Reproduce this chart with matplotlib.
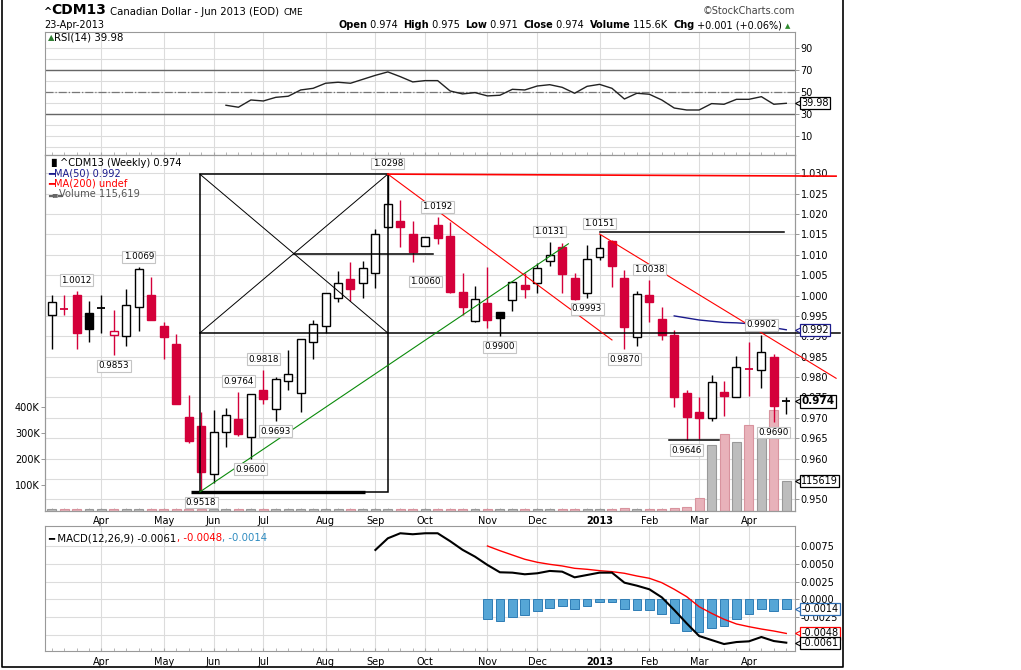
import numpy as np
import matplotlib
matplotlib.use('Agg')
import matplotlib.pyplot as plt
from matplotlib.patches import Rectangle
from matplotlib.transforms import blended_transform_factory

W, H = 1021, 670

# weekly bars, week of 5-Mar-2012 .. week of 22-Apr-2013
opens = [0.9952, 0.9966, 1.0001, 0.9956, 0.9970, 0.9902, 0.9900, 0.9971, 1.0001, 0.9925,
         0.9881, 0.9702, 0.9680, 0.9561, 0.9664, 0.9697, 0.9652, 0.9768, 0.9721, 0.9790,
         0.9760, 0.9885, 0.9925, 0.9993, 1.0041, 1.0030, 1.0056, 1.0167, 1.0183, 1.0151,
         1.0122, 1.0173, 1.0146, 1.0009, 0.9938, 0.9981, 0.9959, 0.9988, 1.0025, 1.0032,
         1.0085, 1.0118, 1.0043, 1.0007, 1.0094, 1.0134, 1.0043, 0.9899, 1.0001, 0.9942,
         0.9903, 0.9760, 0.9714, 0.9699, 0.9763, 0.9750, 0.9819, 0.9818, 0.9849, 0.9740]
highs = [1.0001, 1.0001, 1.0012, 0.9987, 1.0001, 0.9965, 1.0016, 1.0069, 1.0046, 0.9934,
         0.9906, 0.9756, 0.9714, 0.9718, 0.9725, 0.9764, 0.9759, 0.9818, 0.9799, 0.9866,
         0.9893, 0.9939, 1.0007, 1.0060, 1.0082, 1.0085, 1.0163, 1.0298, 1.0235, 1.0183,
         1.0143, 1.0192, 1.0181, 1.0056, 1.0024, 1.0071, 0.9960, 1.0035, 1.0055, 1.0079,
         1.0131, 1.0130, 1.0055, 1.0124, 1.0151, 1.0136, 1.0063, 1.0011, 1.0038, 0.9973,
         0.9916, 0.9768, 0.9752, 0.9805, 0.9791, 0.9852, 0.9885, 0.9902, 0.9857, 0.9750]
lows = [0.9870, 0.9952, 0.9870, 0.9887, 0.9907, 0.9853, 0.9877, 0.9914, 0.9940, 0.9844,
        0.9735, 0.9639, 0.9518, 0.9539, 0.9629, 0.9655, 0.9600, 0.9735, 0.9693, 0.9768,
        0.9715, 0.9844, 0.9908, 0.9983, 0.9986, 0.9995, 1.0019, 1.0165, 1.0120, 1.0083,
        1.0122, 1.0126, 1.0007, 0.9952, 0.9936, 0.9921, 0.9900, 0.9963, 0.9995, 1.0007,
        1.0073, 1.0007, 0.9990, 0.9993, 1.0087, 1.0022, 0.9870, 0.9875, 0.9936, 0.9891,
        0.9727, 0.9646, 0.9647, 0.9691, 0.9705, 0.9750, 0.9754, 0.9772, 0.9690, 0.9710]
closes = [0.9983, 0.9966, 0.9907, 0.9919, 0.9970, 0.9914, 0.9976, 1.0066, 0.9941, 0.9899,
          0.9735, 0.9644, 0.9568, 0.9664, 0.9706, 0.9660, 0.9758, 0.9747, 0.9794, 0.9807,
          0.9893, 0.9929, 1.0006, 1.0032, 1.0015, 1.0067, 1.0150, 1.0225, 1.0169, 1.0108,
          1.0143, 1.0140, 1.0009, 0.9973, 0.9991, 0.9939, 0.9944, 1.0034, 1.0015, 1.0067,
          1.0099, 1.0054, 0.9992, 1.0089, 1.0116, 1.0073, 0.9924, 1.0003, 0.9983, 0.9902,
          0.9750, 0.9702, 0.9699, 0.9787, 0.9754, 0.9824, 0.9819, 0.9861, 0.9730, 0.9740]
volumes = [6100, 6900, 6400, 5800, 6600, 6200, 5900, 7100, 6800, 6300,
           7400, 7000, 6600, 7200, 6900, 6500, 7300, 6700, 6100, 6400,
           6800, 7000, 6600, 6200, 6900, 6500, 7100, 6300, 6700, 6900,
           6000, 6600, 6800, 6400, 6200, 6700, 5900, 6300, 6500, 6100,
           6400, 6800, 6200, 6600, 7000, 6500, 8600, 6800, 7200, 7400,
           10800, 14500, 50000, 255000, 297000, 267000, 329000, 284000, 387000, 115619]

ma50_start = 50
ma50 = [0.9950, 0.9945, 0.9940, 0.9937, 0.9934, 0.9933, 0.9931, 0.9926, 0.9921, 0.9916]

rsi_start = 14
rsi = [38.2, 36.4, 43.0, 42.1, 45.4, 46.4, 52.1, 53.6, 58.2, 59.1, 58.2, 61.8, 65.4, 68.5,
       64.2, 59.4, 60.6, 60.6, 51.2, 48.5, 49.7, 46.7, 47.3, 52.7, 52.1, 55.7, 56.9, 54.5,
       49.1, 55.4, 57.2, 53.6, 43.9, 49.1, 48.2, 43.0, 35.7, 33.9, 33.9, 39.7, 39.1, 43.6,
       43.6, 46.0, 39.1, 39.98]

macd_start = 26
macd = [0.00694, 0.00858, 0.00929, 0.00915, 0.00929, 0.00929, 0.00818, 0.00696, 0.00600,
        0.00483, 0.00380, 0.00375, 0.00352, 0.00366, 0.00399, 0.00389, 0.00309, 0.00342,
        0.00375, 0.00375, 0.00234, 0.00192, 0.00141, 0.00028, -0.00150, -0.00338, -0.00516,
        -0.00573, -0.00629, -0.00601, -0.00591, -0.00530, -0.00587, -0.0061]
signal_start = 35
signal = [0.00750, 0.00684, 0.00623, 0.00563, 0.00521, 0.00492, 0.00469, 0.00436, 0.00422,
          0.00403, 0.00389, 0.00366, 0.00328, 0.00296, 0.00234, 0.00141, 0.00037, -0.00104,
          -0.00197, -0.00281, -0.00347, -0.00385, -0.00418, -0.00446, -0.0048]
hist = [-0.0028, -0.0031, -0.0025, -0.0022, -0.0017, -0.0012, -0.0010, -0.0013, -0.0009,
        -0.0004, -0.0004, -0.0014, -0.0015, -0.0015, -0.0021, -0.0034, -0.0044, -0.0046,
        -0.0041, -0.0038, -0.0028, -0.0021, -0.0013, -0.0016, -0.0014]

month_pos = [4, 9, 13, 17, 22, 26, 30, 35, 39, 44, 48, 52, 56]
month_lbl = ['Apr', 'May', 'Jun', 'Jul', 'Aug', 'Sep', 'Oct', 'Nov', 'Dec', '2013', 'Feb', 'Mar', 'Apr']

# swing high / low tags (bar, value, side)
swing_tags = [(2, '1.0012', 'up'), (5, '0.9853', 'dn'), (7, '1.0069', 'up'), (12, '0.9518', 'dn'),
              (15, '0.9764', 'up'), (16, '0.9600', 'dn'), (17, '0.9818', 'up'), (18, '0.9693', 'dn'),
              (27, '1.0298', 'up'), (30, '1.0060', 'dn'), (31, '1.0192', 'up'), (36, '0.9900', 'dn'),
              (40, '1.0131', 'up'), (43, '0.9993', 'dn'), (44, '1.0151', 'up'), (46, '0.9870', 'dn'),
              (48, '1.0038', 'up'), (51, '0.9646', 'dn'), (57, '0.9902', 'up'), (58, '0.9690', 'dn')]

RED = '#D4003A'
GRID = '#DCDCDC'
x = np.arange(len(closes))
XLIM = (-0.51, 59.7)


def px_axes(top, bottom):
    return fig.add_axes([45.3 / W, 1 - bottom / H, (795 - 45.3) / W, (bottom - top) / H])


def style(ax):
    for s in ax.spines.values():
        s.set_color('#999999')
        s.set_linewidth(0.8)
    ax.set_xlim(*XLIM)
    ax.tick_params(labelsize=7, colors='black')
    ax.tick_params(axis='y', length=3, width=0.6, color='#888888', pad=1)
    ax.set_xticks(month_pos)
    ax.set_xticks(x, minor=True)
    ax.tick_params(axis='x', which='both', direction='in', length=2.5, color='#AAAAAA', pad=4)
    for m in month_pos:
        ax.axvline(m, color=GRID, lw=0.8, zorder=0)


def tag(ax, y, text, edge, bold=False, size=7, ydata=None):
    tr = blended_transform_factory(ax.transAxes, (ydata or ax).transData)
    ax.plot([1.004], [y], marker='<', ms=5, mfc='white', mec=edge, mew=0.8,
            transform=tr, clip_on=False, zorder=9)
    ax.annotate(text, xy=(1, y), xycoords=tr, xytext=(4.5, 0), textcoords='offset points',
                ha='left', va='center', fontsize=size, fontweight='bold' if bold else 'normal',
                bbox=dict(boxstyle='square,pad=0.12', fc='white', ec=edge, lw=0.9), zorder=10)


fig = plt.figure(figsize=(W / 100, H / 100), dpi=100)
fig.patch.set_facecolor('white')

# header / outer frame in pixel coordinates
hdr = fig.add_axes([0, 0, 1, 1])
hdr.set_xlim(0, W)
hdr.set_ylim(H, 0)
hdr.axis('off')
hdr.plot([2, 2, 843, 843], [0, 667, 667, 0], color='black', lw=1.2)

t = hdr.text(43, 17, '^', fontsize=7, fontweight='bold', va='bottom')
t = hdr.annotate('CDM13', xy=(1, 0), xycoords=t, fontsize=10, fontweight='bold', va='bottom')
t = hdr.annotate('Canadian Dollar - Jun 2013 (EOD)', xy=(1, 0), xycoords=t, xytext=(3, 0),
                 textcoords='offset points', fontsize=7.3, va='bottom')
hdr.annotate('CME', xy=(1, 0), xycoords=t, xytext=(3, 0), textcoords='offset points',
             fontsize=6.5, va='bottom')
hdr.text(44, 30, '23-Apr-2013', fontsize=7, va='bottom')
hdr.text(795, 16, '\u00a9StockCharts.com', fontsize=7, color='#444444', ha='right', va='bottom')

stats = [('Open', True), (' 0.974', False), ('High', True), (' 0.975', False),
         ('Low', True), (' 0.971', False), ('Close', True), (' 0.974', False),
         ('Volume', True), (' 115.6K', False), ('Chg', True), (' +0.001 (+0.06%)', False)]
t = None
for s, b in stats:
    if t is None:
        t = hdr.text(338, 30, s, fontsize=7, fontweight='bold', va='bottom')
    else:
        gap = 4 if b else 0
        t = hdr.annotate(s, xy=(1, 0), xycoords=t, xytext=(gap, 0), textcoords='offset points',
                         fontsize=7, va='bottom', fontweight='bold' if b else 'normal')
hdr.annotate('\u25b2', xy=(1, 0.1), xycoords=t, xytext=(2, 0), textcoords='offset points',
             fontsize=5, color='#2E8B2E', va='bottom')

# ---------------- RSI panel ----------------
ax_rsi = px_axes(32.3, 155)
style(ax_rsi)
ax_rsi.set_ylim(-7, 104.5)
for lv in range(0, 100, 10):
    ax_rsi.axhline(lv, color=GRID, lw=0.8, zorder=0)
ax_rsi.axhline(70, color='#666666', lw=1, zorder=1)
ax_rsi.axhline(30, color='#666666', lw=1, zorder=1)
ax_rsi.axhline(50, color='#777777', lw=0.9, ls='-.', zorder=1)
ax_rsi.plot(x[rsi_start:], rsi, color='#222222', lw=1, zorder=3)
ax_rsi.yaxis.tick_right()
ax_rsi.set_yticks([90, 70, 50, 30, 10])
ax_rsi.tick_params(axis='x', labelbottom=False)
ax_rsi.text(0.004, 0.955, '\u25b2', transform=ax_rsi.transAxes, fontsize=6, color='#2E7D32', va='center')
ax_rsi.text(0.012, 0.955, 'RSI(14) 39.98', transform=ax_rsi.transAxes, fontsize=7.3, va='center')
tag(ax_rsi, rsi[-1], '39.98', 'black')

# ---------------- price / volume panel ----------------
ax_vol = px_axes(155, 510.7)
style(ax_vol)
ax_px = ax_vol.twinx()
ax_px.set_xlim(*XLIM)
for s in ax_px.spines.values():
    s.set_color('#999999')
    s.set_linewidth(0.8)

ax_px.set_ylim(0.9472, 1.03449)
price_ticks = np.round(np.arange(0.950, 1.0301, 0.005), 3)
ax_px.set_yticks(price_ticks)
ax_px.set_yticklabels([f'{p:.3f}' for p in price_ticks])
ax_px.tick_params(axis='y', labelsize=7, length=3, width=0.6, color='#888888', pad=1)
grid_tr = blended_transform_factory(ax_vol.transAxes, ax_px.transData)
for p in price_ticks:
    ax_vol.plot([0, 1], [p, p], color=GRID, lw=0.8, transform=grid_tr, zorder=0)

ax_vol.set_ylim(0, 1.373e6)
ax_vol.set_yticks([1e5, 2e5, 3e5, 4e5])
ax_vol.set_yticklabels(['100K', '200K', '300K', '400K'])
ax_vol.set_xticklabels(month_lbl)
for lbl in ax_vol.get_xticklabels():
    if lbl.get_text() == '2013':
        lbl.set_fontweight('bold')

prev = np.r_[closes[0], closes[:-1]]
up_day = np.array(closes) >= prev
vol_face = ['#BDBDBD' if u else '#E8B2BA' for u in up_day]
vol_edge = ['#999999' if u else '#D8939E' for u in up_day]
ax_vol.bar(x, volumes, width=0.72, color=vol_face, edgecolor=vol_edge, lw=0.8, zorder=2)

bw = 0.64
for i in x:
    o, hi, lo, c = opens[i], highs[i], lows[i], closes[i]
    col = 'black' if up_day[i] else RED
    ax_px.vlines(i, lo, hi, color=col, lw=1, zorder=3)
    if abs(c - o) < 2e-4:
        ax_px.hlines(c, i - bw / 2, i + bw / 2, color=col, lw=1.3, zorder=4)
    else:
        face = 'white' if c > o else col
        ax_px.add_patch(Rectangle((i - bw / 2, min(o, c)), bw, abs(c - o), fc=face, ec=col,
                                  lw=1, zorder=4))

ax_px.plot(x[ma50_start:], ma50, color='#1A1A8C', lw=1, zorder=5)

# drawn annotations: box from the June low to the September high
lo_i, hi_i = 12, 27
box_lo, box_hi = lows[lo_i], highs[hi_i]
mid = (box_lo + box_hi) / 2
k = dict(color='black', zorder=5)
ax_px.add_patch(Rectangle((lo_i - 0.1, box_lo), hi_i - lo_i + 0.1, box_hi - box_lo, fill=False,
                          ec='black', lw=1.1, zorder=5))
ax_px.plot([lo_i - 0.1, hi_i], [box_hi, mid], lw=0.7, **k)
ax_px.plot([lo_i - 0.1, hi_i], [mid, box_hi], lw=0.7, **k)
ax_px.plot([lo_i - 0.1, 63.3], [mid, mid], lw=1.1, clip_on=False, **k)
ax_px.plot([19.45, 30.65], [(mid + box_hi) / 2] * 2, lw=1.1, **k)
ax_px.plot([11.2, 25.2], [box_lo, box_lo], lw=2.4, solid_capstyle='butt', **k)
ax_px.plot([44, 58.8], [1.0155, 1.0155], lw=1.1, **k)
ax_px.plot([49.6, 53.6], [0.9646, 0.9646], lw=1.1, **k)
ax_px.plot([lo_i - 0.1, 41.5], [box_lo, 1.0127], color='#0A8A0A', lw=0.8, zorder=5)
ax_px.plot([hi_i, 45.0], [box_hi, 0.9891], color='#FF0000', lw=0.8, zorder=5)
ax_px.plot([44, 63.0], [highs[44], 0.9797], color='#FF0000', lw=0.8, zorder=5, clip_on=False)
ax_px.plot([hi_i, 63.0], [box_hi, 1.0293], color='#FF0000', lw=1.2, zorder=5, clip_on=False)

for i, txt, side in swing_tags:
    off = 10.5 if side == 'up' else -10.5
    ax_px.annotate(txt, xy=(i, float(txt)), xytext=(0, off), textcoords='offset pixels',
                   ha='center', va='center', fontsize=6.3,
                   bbox=dict(boxstyle='square,pad=0.15', fc='white', ec='#C4C4C4', lw=0.8), zorder=8)

ax_px.text(0.004, 0.978, '\u2590\u258c', transform=ax_px.transAxes, fontsize=5.5, va='center')
ax_px.text(0.02, 0.978, '^CDM13 (Weekly) 0.974', transform=ax_px.transAxes, fontsize=7.1, va='center')
ax_px.text(0.004, 0.949, '\u2501MA(50) 0.992', transform=ax_px.transAxes, fontsize=7.1,
           color='#1A1A8C', va='center')
ax_px.text(0.004, 0.920, '\u2501MA(200) undef', transform=ax_px.transAxes, fontsize=7.1,
           color='#FF0000', va='center')
ax_px.text(0.004, 0.890, '\u2583\u2585\u2583', transform=ax_px.transAxes, fontsize=4.5,
           color='#666666', va='center')
ax_px.text(0.018, 0.890, 'Volume 115,619', transform=ax_px.transAxes, fontsize=7.1,
           color='#555555', va='center')

tag(ax_px, ma50[-1], '0.992', '#1A1A8C')
tag(ax_px, closes[-1], '0.974', 'black', bold=True, size=7.5)
tag(ax_px, volumes[-1], '115619', 'black', ydata=ax_vol)

# ---------------- MACD panel ----------------
ax_macd = px_axes(526, 651)
style(ax_macd)
ax_macd.set_ylim(-0.00727, 0.01031)
for lv in [0.0075, 0.005, 0.0025, 0.0, -0.0025, -0.005]:
    ax_macd.axhline(lv, color=GRID, lw=0.8, zorder=0)
ax_macd.yaxis.tick_right()
macd_ticks = [0.0075, 0.0050, 0.0025, 0.0, -0.0025]
ax_macd.set_yticks(macd_ticks)
ax_macd.set_yticklabels([f'{v:.4f}' for v in macd_ticks])
ax_macd.set_xticklabels(month_lbl)
for lbl in ax_macd.get_xticklabels():
    if lbl.get_text() == '2013':
        lbl.set_fontweight('bold')
ax_macd.bar(x[signal_start:], hist, width=0.7, color='#56A6D6', edgecolor='#2F7DB5', lw=0.7, zorder=2)
ax_macd.plot(x[signal_start:], signal, color='#FF0000', lw=1, zorder=3)
ax_macd.plot(x[macd_start:], macd, color='black', lw=1.5, zorder=4)

t = ax_macd.text(0.004, 0.9, '\u2501 MACD(12,26,9) -0.0061', transform=ax_macd.transAxes,
                 fontsize=7.3, va='center')
t = ax_macd.annotate(', -0.0048', xy=(1, 0), xycoords=t, fontsize=7.3, color='#FF0000', va='bottom')
ax_macd.annotate(', -0.0014', xy=(1, 0), xycoords=t, fontsize=7.3, color='#2E8BC0', va='bottom')
tag(ax_macd, hist[-1], '-0.0014', '#2F6FB5')
tag(ax_macd, signal[-1], '-0.0048', '#FF0000')
tag(ax_macd, macd[-1], '-0.0061', 'black')

fig.savefig('out.png', dpi=100)
